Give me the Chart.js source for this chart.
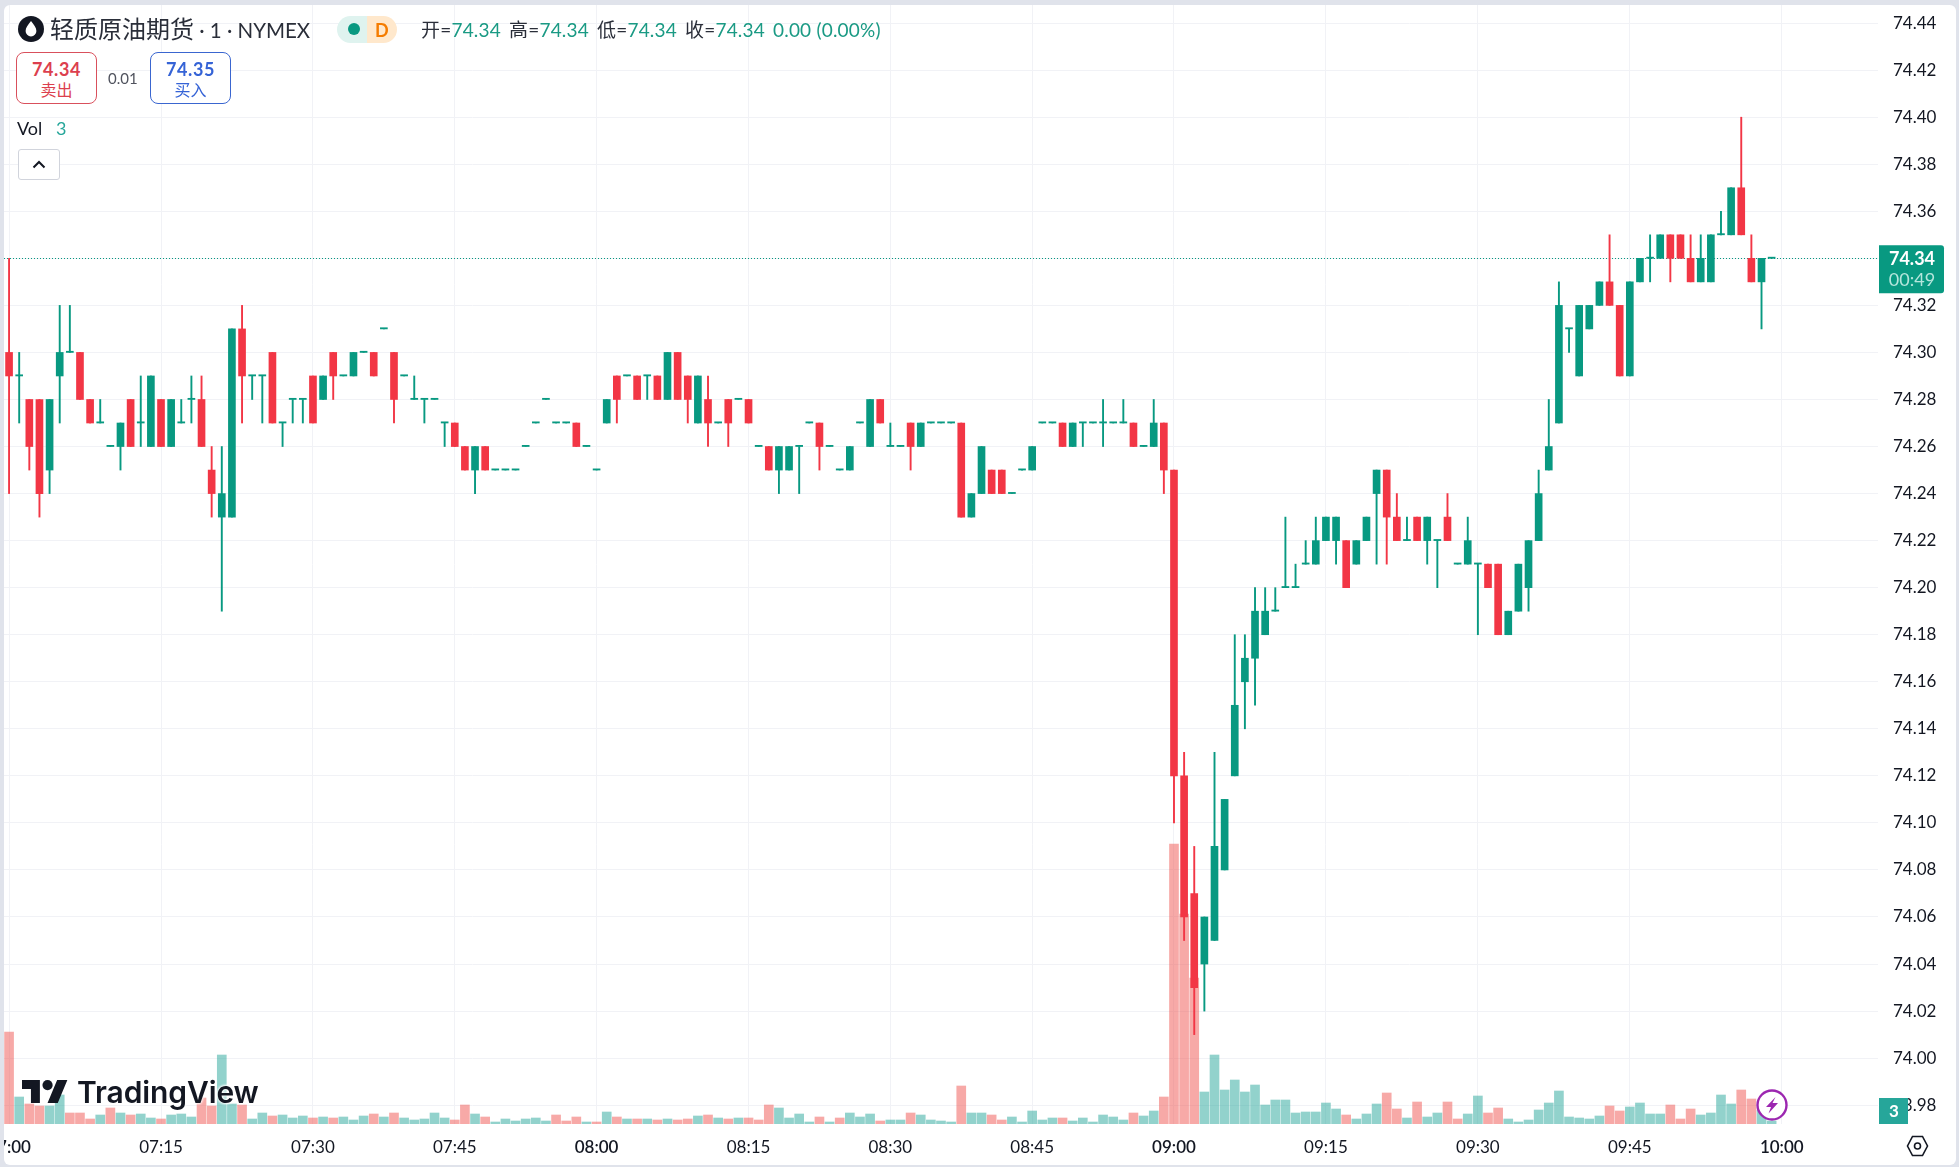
<!DOCTYPE html>
<html lang="zh">
<head>
<meta charset="utf-8">
<title>轻质原油期货 · 1 · NYMEX</title>
<script src="https://cdn.jsdelivr.net/npm/chart.js@4/dist/chart.umd.min.js"></script>
<style>
  html, body { margin: 0; height: 100%; background: #e0e3eb; overflow: hidden; }
  body { font-family: Lato, "Noto Sans CJK SC", sans-serif; color: #131722; }
  #card { position: absolute; left: 4px; top: 5px; width: 1952px; height: 1160px; background: #fff; border-radius: 6px; overflow: hidden; }
  #chart { position: absolute; left: 0; top: 0; }
  .ui { position: absolute; white-space: nowrap; line-height: 1; }
  .title { left: 50px; top: 16px; font: 400 24px/26px Lato, "Noto Sans CJK SC", sans-serif; color: #2a2e39; }
  .title span { font-size: 20.5px; }
  .ohlc { left: 421px; top: 20px; font: 400 19px/20px Lato, "Noto Sans CJK SC", sans-serif; color: #2a2e39; letter-spacing: .2px; }
  .ohlc b { font-weight: 400; color: #1a9a84; }
  .ohlc span { margin-right: 8px; }
  .btn { width: 79px; height: 50px; border: 1px solid; border-radius: 8px; text-align: center; top: 52px; background: #fff; }
  .btn b { display: block; font: 700 18px/18px Lato, sans-serif; margin-top: 7px; letter-spacing: .6px; }
  .btn i { display: block; font: 400 16px/18px "Noto Sans CJK SC", sans-serif; margin-top: 2px; }
  .sell { left: 16px; border-color: #d9505c; color: #dc3f4e; }
  .buy { left: 150px; border-color: #3a66d0; color: #3563d6; }
  svg.ui { overflow: visible; }
</style>
</head>
<body>
<div id="card"><canvas id="chart" width="1952" height="1160"></canvas></div>

<svg class="ui" style="left:18px;top:16px" width="26" height="26" viewBox="0 0 26 26">
  <circle cx="13" cy="13" r="13" fill="#131722"/>
  <path d="M13 5c3 4 5.4 6.6 5.4 10a5.4 5.4 0 0 1-10.8 0C7.6 11.6 10 9 13 5z" fill="#fff"/>
</svg>
<div class="ui title">轻质原油期货<span> · 1 · NYMEX</span></div>
<div class="ui" style="left:337px;top:16px;width:30px;height:27px;background:#dff3ef;border-radius:14px 0 0 14px"></div>
<div class="ui" style="left:367px;top:16px;width:30px;height:27px;background:#ffe8cc;border-radius:0 14px 14px 0"></div>
<div class="ui" style="left:348px;top:23px;width:12px;height:12px;border-radius:50%;background:#089981"></div>
<div class="ui" style="left:375px;top:20px;font:700 18px/20px Lato,sans-serif;color:#f57c00">D</div>
<div class="ui ohlc"><span>开=<b>74.34</b></span><span>高=<b>74.34</b></span><span>低=<b>74.34</b></span><span>收=<b>74.34</b></span><b>0.00 (0.00%)</b></div>

<div class="ui btn sell"><b>74.34</b><i>卖出</i></div>
<div class="ui" style="left:108px;top:70px;font:400 15px/16px Lato,sans-serif;color:#50535e">0.01</div>
<div class="ui btn buy"><b>74.35</b><i>买入</i></div>

<div class="ui" style="left:17px;top:118px;font:400 18px/20px Lato,sans-serif;color:#131722">Vol</div>
<div class="ui" style="left:56px;top:118px;font:400 18px/20px Lato,sans-serif;color:#26a69a">3</div>
<div class="ui" style="left:18px;top:149px;width:40px;height:29px;border:1px solid #d1d4dc;border-radius:3px;background:#fff"></div>
<svg class="ui" style="left:32px;top:160px" width="14" height="9" viewBox="0 0 14 9"><path d="M1.5 7.5 7 2l5.5 5.5" fill="none" stroke="#131722" stroke-width="2"/></svg>

<svg class="ui" style="left:22px;top:1080px" width="46" height="23" viewBox="0 4 36 18"><path d="M14 22H7V11H0V4h14v18zM28 22h-8l7.5-18h8L28 22z" fill="#131722"/><circle cx="20" cy="8" r="4" fill="#131722"/></svg>
<div class="ui" style="left:77px;top:1074px;font:600 30px/36px Inter,sans-serif;letter-spacing:-.1px;color:#131722;text-shadow:0 0 3px #fff,0 0 3px #fff,0 0 3px #fff">TradingView</div>

<svg class="ui" style="left:1756px;top:1089px" width="32" height="32" viewBox="0 0 32 32">
  <circle cx="16" cy="16" r="14.5" fill="#fff" stroke="#9c27b0" stroke-width="2.4"/>
  <path d="M19.5 8 10 18h5l-2.5 6.5L22 14h-5.5z" fill="#9c27b0"/>
</svg>
<svg class="ui" style="left:1906px;top:1135px" width="23" height="22" viewBox="0 0 23 22">
  <path d="M6.5 1.5h10l5 9.5-5 9.5h-10l-5-9.5z" fill="none" stroke="#131722" stroke-width="1.6"/>
  <circle cx="11.5" cy="11" r="3" fill="none" stroke="#131722" stroke-width="1.6"/>
</svg>

<script>
// Velas de 1 minuto
const opens = [
  74.30,74.29,74.28,74.28,74.25,74.29,74.30,74.30,74.28,74.27,
  74.26,74.26,74.28,74.27,74.26,74.28,74.26,74.27,74.28,74.28,
  74.25,74.23,74.23,74.31,74.29,74.29,74.30,74.27,74.28,74.28,
  74.29,74.28,74.30,74.29,74.29,74.30,74.30,74.31,74.30,74.29,
  74.28,74.28,74.28,74.27,74.27,74.26,74.25,74.26,74.25,74.25,
  74.25,74.26,74.27,74.28,74.27,74.27,74.27,74.26,74.25,74.27,
  74.29,74.29,74.29,74.29,74.29,74.28,74.30,74.29,74.27,74.28,
  74.27,74.28,74.28,74.28,74.26,74.26,74.25,74.25,74.26,74.27,
  74.27,74.26,74.25,74.25,74.27,74.26,74.28,74.26,74.26,74.27,
  74.26,74.27,74.27,74.27,74.27,74.23,74.24,74.25,74.25,74.24,
  74.25,74.25,74.27,74.27,74.27,74.26,74.27,74.27,74.27,74.27,
  74.27,74.27,74.26,74.26,74.27,74.25,74.12,74.07,74.04,74.05,
  74.08,74.12,74.16,74.17,74.18,74.19,74.20,74.20,74.21,74.21,
  74.22,74.22,74.22,74.21,74.22,74.24,74.25,74.23,74.22,74.23,
  74.22,74.22,74.23,74.21,74.21,74.21,74.21,74.21,74.18,74.19,
  74.20,74.22,74.25,74.27,74.31,74.29,74.31,74.32,74.33,74.32,
  74.29,74.33,74.34,74.34,74.35,74.35,74.34,74.33,74.33,74.35,
  74.35,74.37,74.34,74.33,74.34
];
const highs = [
  74.34,74.30,74.28,74.28,74.28,74.32,74.32,74.30,74.28,74.28,
  74.26,74.27,74.28,74.29,74.29,74.28,74.28,74.28,74.29,74.29,
  74.26,74.26,74.31,74.32,74.29,74.29,74.30,74.27,74.28,74.28,
  74.29,74.29,74.30,74.29,74.30,74.30,74.30,74.31,74.30,74.29,
  74.29,74.28,74.28,74.27,74.27,74.26,74.26,74.26,74.25,74.25,
  74.25,74.26,74.27,74.28,74.27,74.27,74.27,74.26,74.25,74.28,
  74.29,74.29,74.29,74.29,74.29,74.30,74.30,74.29,74.29,74.29,
  74.27,74.28,74.28,74.28,74.26,74.26,74.26,74.26,74.26,74.27,
  74.27,74.26,74.25,74.26,74.27,74.28,74.28,74.27,74.26,74.27,
  74.27,74.27,74.27,74.27,74.27,74.24,74.26,74.25,74.25,74.24,
  74.25,74.26,74.27,74.27,74.27,74.27,74.27,74.27,74.28,74.27,
  74.28,74.27,74.26,74.28,74.27,74.25,74.13,74.09,74.06,74.13,
  74.11,74.18,74.18,74.20,74.20,74.20,74.23,74.21,74.22,74.23,
  74.23,74.23,74.22,74.22,74.23,74.25,74.25,74.24,74.23,74.23,
  74.23,74.22,74.24,74.21,74.23,74.21,74.21,74.21,74.19,74.21,
  74.22,74.25,74.28,74.33,74.31,74.32,74.32,74.33,74.35,74.32,
  74.33,74.34,74.35,74.35,74.35,74.35,74.35,74.35,74.35,74.36,
  74.37,74.40,74.35,74.34,74.34
];
const lows = [
  74.24,74.27,74.25,74.23,74.24,74.27,74.30,74.28,74.27,74.27,
  74.26,74.25,74.26,74.26,74.26,74.26,74.26,74.27,74.27,74.26,
  74.23,74.19,74.23,74.27,74.28,74.27,74.27,74.26,74.27,74.27,
  74.27,74.28,74.28,74.29,74.29,74.30,74.29,74.31,74.27,74.29,
  74.28,74.27,74.28,74.26,74.26,74.25,74.24,74.25,74.25,74.25,
  74.25,74.26,74.27,74.28,74.27,74.27,74.26,74.26,74.25,74.27,
  74.27,74.29,74.28,74.28,74.28,74.28,74.28,74.27,74.27,74.26,
  74.27,74.26,74.28,74.27,74.26,74.25,74.24,74.25,74.24,74.27,
  74.25,74.26,74.25,74.25,74.27,74.26,74.27,74.26,74.26,74.25,
  74.26,74.27,74.27,74.27,74.23,74.23,74.24,74.24,74.24,74.24,
  74.25,74.25,74.27,74.27,74.26,74.26,74.26,74.27,74.26,74.27,
  74.27,74.26,74.26,74.26,74.24,74.10,74.05,74.01,74.02,74.05,
  74.08,74.12,74.14,74.15,74.18,74.19,74.20,74.20,74.21,74.21,
  74.22,74.21,74.20,74.21,74.22,74.21,74.21,74.22,74.22,74.22,
  74.21,74.20,74.22,74.21,74.21,74.18,74.20,74.18,74.18,74.19,
  74.19,74.22,74.25,74.27,74.30,74.29,74.31,74.32,74.32,74.29,
  74.29,74.33,74.33,74.34,74.33,74.34,74.33,74.33,74.33,74.35,
  74.35,74.35,74.33,74.31,74.34
];
const closes = [
  74.29,74.29,74.26,74.24,74.28,74.30,74.30,74.28,74.27,74.27,
  74.26,74.27,74.26,74.27,74.29,74.26,74.28,74.27,74.28,74.26,
  74.24,74.24,74.31,74.29,74.29,74.29,74.27,74.27,74.28,74.28,
  74.27,74.29,74.29,74.29,74.30,74.30,74.29,74.31,74.28,74.29,
  74.28,74.28,74.28,74.27,74.26,74.25,74.26,74.25,74.25,74.25,
  74.25,74.26,74.27,74.28,74.27,74.27,74.26,74.26,74.25,74.28,
  74.28,74.29,74.28,74.29,74.28,74.30,74.28,74.28,74.29,74.27,
  74.27,74.27,74.28,74.27,74.26,74.25,74.26,74.26,74.26,74.27,
  74.26,74.26,74.25,74.26,74.27,74.28,74.27,74.26,74.26,74.26,
  74.27,74.27,74.27,74.27,74.23,74.24,74.26,74.24,74.24,74.24,
  74.25,74.26,74.27,74.27,74.26,74.27,74.27,74.27,74.27,74.27,
  74.27,74.26,74.26,74.27,74.25,74.12,74.06,74.03,74.06,74.09,
  74.11,74.15,74.17,74.19,74.19,74.19,74.20,74.20,74.21,74.22,
  74.23,74.23,74.20,74.22,74.23,74.25,74.23,74.22,74.22,74.22,
  74.23,74.22,74.22,74.21,74.22,74.21,74.20,74.18,74.19,74.21,
  74.22,74.24,74.26,74.32,74.31,74.32,74.32,74.33,74.32,74.29,
  74.33,74.34,74.34,74.35,74.34,74.34,74.33,74.34,74.35,74.35,
  74.37,74.35,74.33,74.34,74.34
];
const volumes = [
  92,27,20,18,18,29,11,11,5,9,
  16,11,9,10,6,5,9,10,7,26,
  18,69,20,19,5,11,8,9,6,8,
  6,7,6,7,4,8,10,7,11,6,
  4,5,11,6,4,19,10,7,2,5,
  3,5,6,3,9,3,7,2,2,12,
  7,5,5,5,4,5,4,5,8,9,
  6,5,6,6,4,19,16,6,10,2,
  7,2,6,11,7,10,3,4,4,11,
  9,4,3,2,38,11,11,9,4,7,
  2,13,4,6,6,3,6,2,9,7,
  4,11,8,13,27,280,210,146,32,69,
  34,44,32,39,19,24,24,11,12,12,
  21,15,9,5,10,20,31,15,6,22,
  7,11,22,5,10,28,11,16,5,2,
  4,14,21,33,7,6,5,8,18,13,
  17,21,10,10,19,5,15,9,11,29,
  20,34,25,14,3
];
// r = barra de volumen roja, g = verde (tal como se ven, no siempre igual a la vela)
const volumeSides = (
  "rgrrggrrrg" + "rgrggrgggr" + "rggrggrggg" + "rgrgggrgrg" + "ggggrrgrgg" +
  "ggggrrrgrg" + "rgrgrgrrgr" + "grgrrrgggg" + "rgrgggrggr" + "ggggrggrrg" +
  "ggggrggggg" + "grggrrrrgg" + "gggggggggg" + "ggrgggrrgr" + "ggrrggrrgg" +
  "ggggggggrr" + "ggggrrrggg" + "grrgg"
).split("");

// Etiquetas de los ejes
const priceTicks = [74.44,74.42,74.40,74.38,74.36,74.34,74.32,74.30,74.28,74.26,74.24,74.22,74.20,74.18,74.16,74.14,74.12,74.10,74.08,74.06,74.04,74.02,74.00,73.98];
const timeLabels = ["07:00","07:15","07:30","07:45","08:00","08:15","08:30","08:45","09:00","09:15","09:30","09:45","10:00"];
const timeBars = [0,15,30,44,58,73,87,101,115,130,145,160,175];
const lastPrice = 74.34;
const lastVolume = 3;
const countdown = "00:49";

const UP = "#089981";
const DOWN = "#f23645";
const FONT = 'Lato, "Noto Sans", sans-serif';

// 175 velas mas hueco a la derecha
const slots = Array.from({ length: 185 }, (_, i) => i);
const upColor = (i) => (closes[i] >= opens[i] ? UP : DOWN);
const candleColors = opens.map((_, i) => upColor(i));

// Linea punteada del ultimo precio, debajo de las velas
const lastLine = {
  id: "lastLine",
  beforeDatasetsDraw(chart) {
    const { ctx, chartArea } = chart;
    const y = Math.round(chart.scales.y.getPixelForValue(lastPrice)) + 0.5;
    ctx.save();
    ctx.strokeStyle = UP;
    ctx.lineWidth = 1;
    ctx.setLineDash([1, 2]);
    ctx.beginPath();
    ctx.moveTo(chartArea.left, y);
    ctx.lineTo(chartArea.right, y);
    ctx.stroke();
    ctx.restore();
  },
  // Etiquetas de precio y volumen sobre el eje
  afterDraw(chart) {
    const { ctx, chartArea } = chart;
    const x = chartArea.right + 1;
    const y = chart.scales.y.getPixelForValue(lastPrice);
    ctx.save();
    ctx.fillStyle = UP;
    ctx.beginPath();
    ctx.roundRect(x, y - 13, 65, 48, [0, 3, 3, 0]);
    ctx.fill();
    ctx.textAlign = "center";
    ctx.textBaseline = "middle";
    ctx.fillStyle = "#fff";
    ctx.font = "700 18px " + FONT;
    ctx.fillText(lastPrice.toFixed(2), x + 33, y + 1);
    ctx.fillStyle = "#b5e6dc";
    ctx.font = "400 18px " + FONT;
    ctx.fillText(countdown, x + 33, y + 22);

    const by = chart.scales.yVol.getPixelForValue(0);
    ctx.fillStyle = "#26a69a";
    ctx.fillRect(x, by - 26, 29, 26);
    ctx.fillStyle = "#fff";
    ctx.font = "700 17px " + FONT;
    ctx.fillText(String(lastVolume), x + 15, by - 12);
    ctx.restore();
  },
};

new Chart(document.getElementById("chart"), {
  type: "bar",
  data: {
    labels: slots,
    datasets: [
      {
        label: "Vol",
        yAxisID: "yVol",
        order: 3,
        grouped: false,
        data: volumes,
        barThickness: 9,
        backgroundColor: volumeSides.map((s) => (s === "g" ? "rgba(38,166,154,.5)" : "rgba(239,83,80,.5)")),
      },
      {
        label: "Mecha",
        yAxisID: "y",
        order: 2,
        grouped: false,
        data: lows.map((l, i) => [l, highs[i]]),
        barThickness: 1.25,
        backgroundColor: candleColors,
      },
      {
        label: "Cuerpo",
        yAxisID: "y",
        order: 1,
        grouped: false,
        data: opens.map((o, i) => [o, closes[i]]),
        barThickness: 7,
        minBarLength: 1.2,
        backgroundColor: candleColors,
      },
    ],
  },
  options: {
    responsive: false,
    animation: false,
    devicePixelRatio: 1,
    layout: { padding: 0 },
    plugins: { legend: { display: false }, tooltip: { enabled: false } },
    scales: {
      x: {
        type: "category",
        offset: true,
        grid: { offset: false, color: "#f1f2f6", drawTicks: false },
        border: { display: false },
        afterBuildTicks: (s) => { s.ticks = timeBars.map((v) => ({ value: v })); },
        afterFit: (s) => { s.paddingLeft = 0; s.paddingRight = 0; s.height = 41; },
        ticks: {
          autoSkip: false,
          maxRotation: 0,
          padding: 13,
          color: "#131722",
          font: (c) => ({ family: FONT, size: 17, weight: /:00$/.test(timeLabels[c.index] || "") ? 600 : 400 }),
          callback: (v, i) => timeLabels[i],
        },
      },
      y: {
        position: "right",
        min: 73.972,
        max: 74.4477,
        grid: { color: "#f1f2f6", drawTicks: false },
        border: { display: false },
        afterBuildTicks: (s) => { s.ticks = priceTicks.map((v) => ({ value: v })); },
        afterFit: (s) => { s.width = 78; s.paddingTop = 0; s.paddingBottom = 0; },
        ticks: {
          padding: 15,
          color: "#131722",
          font: { family: FONT, size: 17 },
          callback: (v) => v.toFixed(2),
        },
      },
      yVol: { display: false, min: 0, max: 1119 },
    },
  },
  plugins: [lastLine],
});
</script>
</body>
</html>
